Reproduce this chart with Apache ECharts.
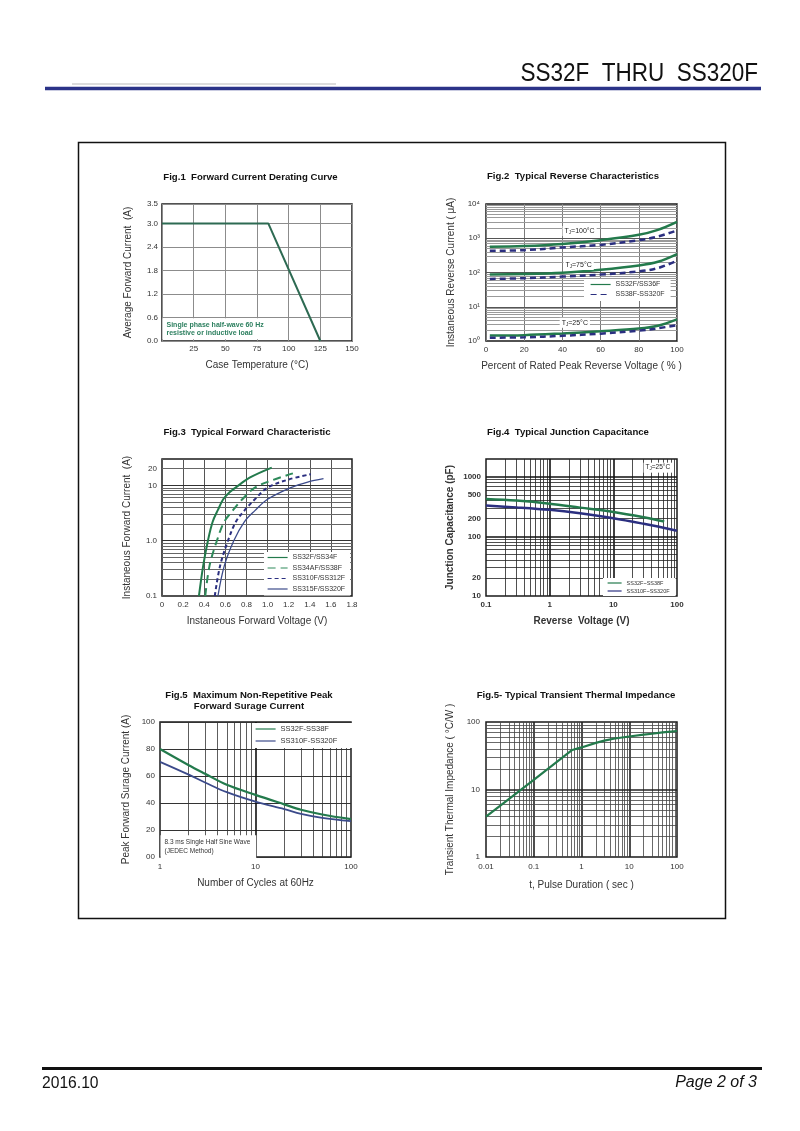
<!DOCTYPE html>
<html><head><meta charset="utf-8">
<script src="https://cdn.jsdelivr.net/npm/echarts@6/dist/echarts.min.js"></script>
<style>html,body{margin:0;padding:0;background:#fff}#c{width:800px;height:1131px}</style>
</head><body><div id="c"></div>
<script>
// ---------------- DATA ----------------
// Fig.1 Forward Current Derating Curve
const fig1Temp = [0, 84, 125];
const fig1Current = [3.0, 3.0, 0.0];

// Fig.2 Typical Reverse Characteristics (uA vs % rated voltage)
const fig2Percent = [2, 20, 40, 60, 80, 90, 100];
const fig2Green100 = [565, 590, 680, 880, 1260, 1750, 3000];
const fig2Navy100 = [430, 450, 540, 640, 880, 1120, 1700];
const fig2Green75 = [88, 90, 98, 120, 160, 205, 345];
const fig2Navy75 = [65, 68, 76, 87, 108, 135, 220];
const fig2Green25 = [1.45, 1.48, 1.66, 1.92, 2.3, 2.8, 4.3];
const fig2Navy25 = [1.25, 1.28, 1.42, 1.64, 2.0, 2.35, 2.9];
const fig2YLabels = ['10\u2070', '10\u00B9', '10\u00B2', '10\u00B3', '10\u2074'];

// Fig.3 Typical Forward Characteristic (A vs V)
const fig3V1 = [0.35, 0.39, 0.435, 0.48, 0.53, 0.58, 0.64, 0.70, 0.83, 1.04];
const fig3I1 = [0.1, 0.35, 1.0, 2.2, 3.6, 5.6, 7.5, 9.2, 13.8, 21];
const fig3V2 = [0.41, 0.45, 0.52, 0.59, 0.67, 0.76, 0.88, 1.05, 1.24];
const fig3I2 = [0.1, 0.35, 1.0, 2.2, 3.5, 5.6, 9.1, 12.5, 16.5];
const fig3V3 = [0.50, 0.55, 0.625, 0.70, 0.78, 0.88, 1.0, 1.2, 1.41];
const fig3I3 = [0.1, 0.35, 1.0, 2.2, 3.5, 5.6, 9.1, 12.8, 15.9];
const fig3V4 = [0.53, 0.59, 0.68, 0.78, 0.88, 1.0, 1.22, 1.38, 1.53];
const fig3I4 = [0.1, 0.35, 1.0, 2.2, 3.5, 5.6, 9.1, 11.5, 13.2];
const fig3YTicks = [0.1, 1, 10, 20];

// Fig.4 Typical Junction Capacitance (pF vs V)
const fig4VGreen = [0.1, 0.3, 1, 3, 10, 30, 63];
const fig4CGreen = [425, 400, 355, 305, 258, 210, 178];
const fig4VNavy = [0.1, 0.3, 1, 3, 10, 30, 100];
const fig4CNavy = [330, 308, 280, 245, 203, 163, 125];
const fig4YTicks = [10, 20, 100, 200, 500, 1000];

// Fig.5 Maximum Non-Repetitive Peak Forward Surge Current
const fig5Cycles = [1, 2, 3, 5, 10, 20, 30, 50, 100];
const fig5Green = [80, 68, 61.5, 53.5, 46, 39, 35, 31.5, 28];
const fig5Navy = [70.5, 61, 55, 48, 41, 35.5, 32, 29, 26.5];

// Fig.6 Typical Transient Thermal Impedance
const fig6Time = [0.01, 0.03, 0.1, 0.3, 0.64, 1, 2, 3, 5, 10, 20, 30, 50, 100];
const fig6Z = [3.95, 7.2, 13.9, 25.4, 38.5, 42, 49, 53, 57, 61, 65, 67, 70, 73.5];

// ---------------- STYLE ----------------
const FONT = "'Liberation Sans', Arial, Helvetica, sans-serif";
const GREEN = '#237a4c';
const NAVY = '#2b2f80';
const SLATE = '#3b4a8a';
const TXT = '#333';

const zip = (a, b) => a.map((v, i) => [v, b[i]]);
const minors = (lo, hi) => { const r = []; for (let e = lo; e < hi; e++) for (let m = 2; m <= 9; m++) r.push(+(m * Math.pow(10, e)).toPrecision(6)); return r; };
const decades = (lo, hi) => { const r = []; for (let e = lo + 1; e < hi; e++) r.push(+Math.pow(10, e).toPrecision(6)); return r; };
const fmtLog = v => { const r = +(+v).toPrecision(6); return String(r); };

function gridLines(idx, xs, ys) {
  const d = [];
  xs.forEach(([vals, st]) => vals.forEach(v => d.push({ xAxis: v, lineStyle: Object.assign({ type: 'solid' }, st) })));
  ys.forEach(([vals, st]) => vals.forEach(v => d.push({ yAxis: v, lineStyle: Object.assign({ type: 'solid' }, st) })));
  return { type: 'line', xAxisIndex: idx, yAxisIndex: idx, data: [], z: 1, silent: true, animation: false,
    markLine: { z: 1, silent: true, symbol: ['none', 'none'], animation: false, label: { show: false },
      emphasis: { disabled: true }, data: d } };
}
function notes(idx, items) {
  return { type: 'line', xAxisIndex: idx, yAxisIndex: idx, data: [], z: 6, silent: true, animation: false,
    markPoint: { z: 6, silent: true, animation: false, symbol: 'circle', symbolSize: 1,
      itemStyle: { color: 'rgba(0,0,0,0)' },
      data: items.map(it => ({ coord: it.coord, label: Object.assign({ show: true }, it.label) })) } };
}
function curve(idx, name, pts, color, width, type, smooth) {
  return { type: 'line', name, xAxisIndex: idx, yAxisIndex: idx, data: pts, symbol: 'none', showSymbol: false,
    smooth: smooth === undefined ? 0.35 : smooth, z: 3, animation: false, silent: true,
    lineStyle: { color, width, type: type || 'solid' }, itemStyle: { color } };
}
function yName(text, gap, bold) {
  return { name: text, nameLocation: 'middle', nameRotate: 90, nameGap: gap, nameMoveOverlap: false,
    nameTextStyle: { fontFamily: FONT, fontSize: 10, color: TXT, fontWeight: bold ? 'bold' : 'normal' } };
}
function xName(text, gap, bold) {
  return { name: text, nameLocation: 'middle', nameGap: gap, nameMoveOverlap: false,
    nameTextStyle: { fontFamily: FONT, fontSize: 10, color: TXT, fontWeight: bold ? 'bold' : 'normal' } };
}
const lab = (margin, extra) => Object.assign({ fontFamily: FONT, fontSize: 8, color: TXT, margin }, extra || {});
const noLine = { axisLine: { show: false }, axisTick: { show: false } };
const legendBase = { orient: 'vertical', backgroundColor: '#fff', borderWidth: 0, selectedMode: false, z: 5,
  itemWidth: 20, itemStyle: { opacity: 0 }, lineStyle: { width: 1.2 } };

const grids = [
  { left: 162, top: 204, width: 190, height: 137 },
  { left: 486, top: 204, width: 191, height: 137 },
  { left: 162, top: 459, width: 190, height: 137 },
  { left: 486, top: 459, width: 191, height: 137 },
  { left: 160, top: 722, width: 191, height: 135 },
  { left: 486, top: 722, width: 191, height: 135 }
].map(g => Object.assign({ show: true, borderColor: '#1a1a1a', borderWidth: 1.5, backgroundColor: 'transparent',
  containLabel: false, outerBoundsMode: 'none', z: 0 }, g));

const xAxis = [
  Object.assign({ gridIndex: 0, type: 'value', min: 0, max: 150, interval: 25,
    axisLabel: lab(4, { formatter: v => v === 0 ? '' : String(v) }),
    splitLine: { show: true, lineStyle: { color: '#8c8c8c', width: 1 } } }, noLine, xName('Case Temperature (\u00B0C)', 19)),
  Object.assign({ gridIndex: 1, type: 'value', min: 0, max: 100, interval: 20,
    axisLabel: lab(5), splitLine: { show: true, lineStyle: { color: '#7a7a7a', width: 1 } } }, noLine,
    xName('Percent of Rated Peak Reverse Voltage ( % )', 20)),
  Object.assign({ gridIndex: 2, type: 'value', min: 0, max: 1.8, interval: 0.2,
    axisLabel: lab(5, { formatter: v => v === 0 ? '0' : (+v).toFixed(1) }),
    splitLine: { show: true, lineStyle: { color: '#555', width: 1 } } }, noLine, xName('Instaneous Forward Voltage (V)', 20)),
  Object.assign({ gridIndex: 3, type: 'log', logBase: 10, min: 0.1, max: 100,
    axisLabel: lab(5, { fontWeight: 'bold', formatter: fmtLog }), splitLine: { show: false } }, noLine,
    xName('Reverse  Voltage (V)', 20, true)),
  Object.assign({ gridIndex: 4, type: 'log', logBase: 10, min: 1, max: 100,
    axisLabel: lab(6, { formatter: fmtLog }), splitLine: { show: false } }, noLine, xName('Number of Cycles at 60Hz', 21)),
  Object.assign({ gridIndex: 5, type: 'log', logBase: 10, min: 0.01, max: 100,
    axisLabel: lab(6, { formatter: fmtLog }), splitLine: { show: false } }, noLine, xName('t, Pulse Duration ( sec )', 23))
];

const yAxis = [
  Object.assign({ gridIndex: 0, type: 'value', min: 0, max: 3.5, interval: 0.6,
    axisLabel: lab(4, { formatter: v => (+v).toFixed(1) }),
    splitLine: { show: true, lineStyle: { color: '#8c8c8c', width: 1 } } }, noLine, yName('Average Forward Current  (A)', 29)),
  Object.assign({ gridIndex: 1, type: 'log', logBase: 10, min: 1, max: 10000,
    axisLabel: lab(6, { formatter: v => fig2YLabels[Math.round(Math.log10(v))] }), splitLine: { show: false } }, noLine,
    yName('Instaneous Reverse Current ( \u03BCA)', 30)),
  Object.assign({ gridIndex: 2, type: 'log', logBase: 10, min: 0.1, max: 30,
    axisLabel: lab(5, { customValues: fig3YTicks, formatter: v => { const r = +(+v).toPrecision(4); return r === 1 ? '1.0' : String(r); } }),
    splitLine: { show: false } }, noLine, yName('Instaneous Forward Current  (A)', 30)),
  Object.assign({ gridIndex: 3, type: 'log', logBase: 10, min: 10, max: 2000,
    axisLabel: lab(5, { fontWeight: 'bold', customValues: fig4YTicks, formatter: fmtLog }), splitLine: { show: false } }, noLine,
    yName('Junction Capacitance (pF)', 31, true)),
  Object.assign({ gridIndex: 4, type: 'value', min: 0, max: 100, interval: 20,
    axisLabel: lab(5, { formatter: v => v === 0 ? '00' : String(v) }),
    splitLine: { show: true, lineStyle: { color: '#333', width: 1 } } }, noLine, yName('Peak Forward Surage Current (A)', 29)),
  Object.assign({ gridIndex: 5, type: 'log', logBase: 10, min: 1, max: 100,
    axisLabel: lab(6, { formatter: fmtLog }), splitLine: { show: false } }, noLine,
    yName('Transient Thermal Impedance ( \u00B0C/W )', 31))
];

const tj = (t) => 'T{s|J}=' + t + '\u00B0C';
const tjRich = { s: { fontSize: 4.5, fontFamily: FONT, color: '#222', verticalAlign: 'bottom', padding: [3, 0, 0, 0] } };
const noteLab = (extra) => Object.assign({ fontFamily: FONT, fontSize: 7, color: '#222', backgroundColor: '#fff',
  padding: [1, 2, 1, 2], position: 'inside', rich: tjRich }, extra);

const series = [
  // Fig.1
  curve(0, 'derating', zip(fig1Temp, fig1Current), '#2d6a52', 2, 'solid', false),
  notes(0, [{ coord: [0, 0.31], label: { formatter: 'Single phase half-wave 60 Hz\nresistive or inductive load',
    position: 'right', distance: 0, fontFamily: FONT, fontSize: 7, fontWeight: 'bold', color: '#2e8060', lineHeight: 8.5,
    backgroundColor: '#fff', padding: [2, 3, 2, 4] } }]),
  // Fig.2
  gridLines(1, [], [[minors(0, 4), { color: '#9a9a9a', width: 1 }], [decades(0, 4), { color: '#555', width: 1 }]]),
  curve(1, 'SS32F/SS36F', zip(fig2Percent, fig2Green100), GREEN, 2.5),
  curve(1, 'SS38F-SS320F', zip(fig2Percent, fig2Navy100), NAVY, 2.5, [6, 4]),
  curve(1, 'SS32F/SS36F', zip(fig2Percent, fig2Green75), GREEN, 2.5),
  curve(1, 'SS38F-SS320F', zip(fig2Percent, fig2Navy75), NAVY, 2.5, [6, 4]),
  curve(1, 'SS32F/SS36F', zip(fig2Percent, fig2Green25), GREEN, 2.5),
  curve(1, 'SS38F-SS320F', zip(fig2Percent, fig2Navy25), NAVY, 2.5, [6, 4]),
  notes(1, [
    { coord: [49, 1630], label: noteLab({ formatter: tj(100) }) },
    { coord: [48.5, 166], label: noteLab({ formatter: tj(75) }) },
    { coord: [46.5, 3.4], label: noteLab({ formatter: tj(25) }) }
  ]),
  // Fig.3
  gridLines(2, [], [[minors(-1, 2).filter(v => v < 30), { color: '#666', width: 1 }], [decades(-1, 2), { color: '#333', width: 1 }]]),
  curve(2, 'SS32F/SS34F', zip(fig3V1, fig3I1), GREEN, 2),
  curve(2, 'SS34AF/SS38F', zip(fig3V2, fig3I2), '#2e8a5a', 2, [8, 5]),
  curve(2, 'SS310F/SS312F', zip(fig3V3, fig3I3), NAVY, 2, [4, 3]),
  curve(2, 'SS315F/SS320F', zip(fig3V4, fig3I4), SLATE, 1.3),
  // Fig.4
  gridLines(3, [[minors(-1, 2), { color: '#222', width: 0.8 }], [decades(-1, 2), { color: '#111', width: 1.6 }]],
    [[minors(1, 4).filter(v => v < 2000), { color: '#222', width: 0.8 }], [decades(1, 4), { color: '#111', width: 1.6 }]]),
  curve(3, 'SS32F~SS38F', zip(fig4VGreen, fig4CGreen), GREEN, 2.5),
  curve(3, 'SS310F~SS320F', zip(fig4VNavy, fig4CNavy), NAVY, 2.5),
  notes(3, [{ coord: [50, 1430], label: noteLab({ formatter: tj(25), fontSize: 6.5 }) }]),
  // Fig.5
  gridLines(4, [[minors(0, 2), { color: '#333', width: 0.8 }], [decades(0, 2), { color: '#111', width: 1.6 }]], []),
  curve(4, 'SS32F-SS38F', zip(fig5Cycles, fig5Green), GREEN, 2.2),
  curve(4, 'SS310F-SS320F', zip(fig5Cycles, fig5Navy), SLATE, 1.8),
  notes(4, [{ coord: [1, 7.3], label: { formatter: '8.3 ms Single Half Sine Wave\n(JEDEC Method)', position: 'right', distance: 0,
    fontFamily: FONT, fontSize: 6.5, color: '#333', lineHeight: 9, backgroundColor: '#fff', padding: [3, 6, 3, 4] } }]),
  // Fig.6
  gridLines(5, [[minors(-2, 2), { color: '#444', width: 0.8 }], [decades(-2, 2), { color: '#222', width: 1.6 }]],
    [[minors(0, 2), { color: '#444', width: 0.8 }], [decades(0, 2), { color: '#222', width: 1.6 }]]),
  curve(5, 'zth', zip(fig6Time, fig6Z), GREEN, 2.2, 'solid', false)
];

const legend = [
  Object.assign({}, legendBase, { data: ['SS32F/SS36F', 'SS38F-SS320F'], left: 584, top: 279, itemHeight: 7, itemGap: 3,
    padding: [2, 6, 3, 6], textStyle: { fontFamily: FONT, fontSize: 7, color: '#333' } }),
  Object.assign({}, legendBase, { data: ['SS32F/SS34F', 'SS34AF/SS38F', 'SS310F/SS312F', 'SS315F/SS320F'], left: 264, top: 552,
    itemHeight: 7, itemGap: 3.5, padding: [2, 5, 3, 3], textStyle: { fontFamily: FONT, fontSize: 7, color: '#333' } }),
  Object.assign({}, legendBase, { data: ['SS32F~SS38F', 'SS310F~SS320F'], left: 603, top: 578, itemHeight: 5, itemGap: 2,
    itemWidth: 14, padding: [2, 6, 2, 4], textStyle: { fontFamily: FONT, fontSize: 5.5, color: '#333' } }),
  Object.assign({}, legendBase, { data: ['SS32F-SS38F', 'SS310F-SS320F'], left: 253, top: 723, itemHeight: 8, itemGap: 4,
    padding: [2, 16, 3, 2], textStyle: { fontFamily: FONT, fontSize: 7.5, color: '#333' } })
];

const T = (x, y, text, font, align, extra, props) => Object.assign({ type: 'text', x, y, silent: true,
  style: Object.assign({ text, font, fill: '#111', align: align || 'center', verticalAlign: 'middle',
    textAlign: align || 'center', textVerticalAlign: 'middle' }, extra || {}) }, props || {});
const titleFont = 'bold 9.6px ' + FONT;

const graphic = [
  { type: 'line', silent: true, shape: { x1: 72, y1: 84, x2: 336, y2: 84 }, style: { stroke: '#dcdcdc', lineWidth: 2 } },
  { type: 'line', silent: true, shape: { x1: 45, y1: 88.5, x2: 761, y2: 88.5 }, style: { stroke: '#2b3388', lineWidth: 3.5 } },
  T(758, 74, 'SS32F  THRU  SS320F', '25px ' + FONT, 'right', null, { scaleX: 0.9 }),
  { type: 'rect', silent: true, shape: { x: 78.5, y: 142.5, width: 647, height: 776 }, style: { fill: 'none', stroke: '#111', lineWidth: 1.5 } },
  { type: 'line', silent: true, shape: { x1: 42, y1: 1068.5, x2: 762, y2: 1068.5 }, style: { stroke: '#111', lineWidth: 3 } },
  T(42, 1083, '2016.10', '17px ' + FONT, 'left', null, { scaleX: 0.92 }),
  T(757, 1083, 'Page 2 of 3', 'italic 16px ' + FONT, 'right'),
  T(250.5, 177.5, 'Fig.1  Forward Current Derating Curve', titleFont),
  T(573, 176.5, 'Fig.2  Typical Reverse Characteristics', titleFont),
  T(247, 432, 'Fig.3  Typical Forward Characteristic', titleFont),
  T(568, 432, 'Fig.4  Typical Junction Capacitance', titleFont),
  T(249, 695, 'Fig.5  Maximum Non-Repetitive Peak', titleFont),
  T(249, 706, 'Forward Surage Current', titleFont),
  T(576, 695, 'Fig.5- Typical Transient Thermal Impedance', titleFont)
];

const chart = echarts.init(document.getElementById('c'), null, { renderer: 'canvas', width: 800, height: 1131 });
chart.setOption({ backgroundColor: '#fff', animation: false, grid: grids, xAxis, yAxis, series, legend, graphic, tooltip: { show: false } });
</script></body></html>
